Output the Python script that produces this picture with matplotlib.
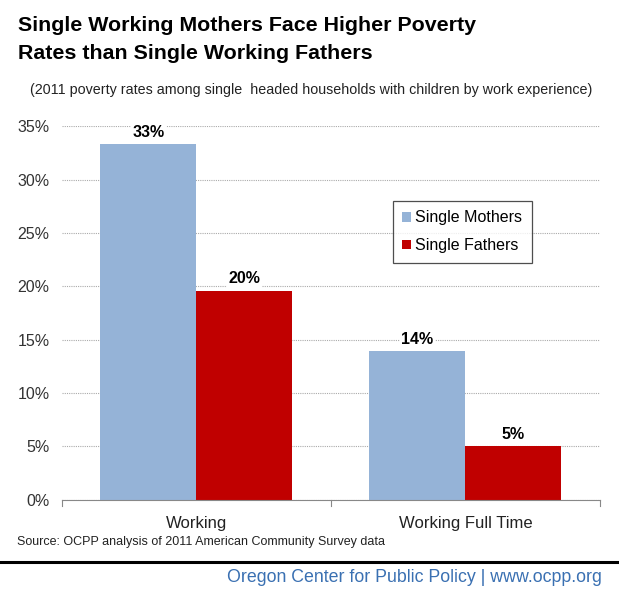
import matplotlib.pyplot as plt
import numpy as np

plt.rcParams['font.family'] = ['Liberation Sans', 'DejaVu Sans']

# data
categories = ["Working", "Working Full Time"]
series_names = ["Single Mothers", "Single Fathers"]
mothers = [0.333, 0.139]
fathers = [0.196, 0.050]
value_labels = [["33%", "14%"], ["20%", "5%"]]
yticks = [0, 0.05, 0.10, 0.15, 0.20, 0.25, 0.30, 0.35]
ytick_labels = ["0%", "5%", "10%", "15%", "20%", "25%", "30%", "35%"]

colors = ["#95B3D7", "#C00000"]

fig = plt.figure(figsize=(6.19, 5.95), dpi=100)
ax = fig.add_axes([0.100, 0.160, 0.869, 0.628])

x = np.arange(len(categories))
w = 0.357
bars_m = ax.bar(x - w / 2, mothers, w, color=colors[0], label=series_names[0], zorder=2)
bars_f = ax.bar(x + w / 2, fathers, w, color=colors[1], label=series_names[1], zorder=2)

# value labels above bars, white box breaks the gridline like the original
for bars, labels in zip([bars_m, bars_f], value_labels):
    for b, lab in zip(bars, labels):
        ax.text(b.get_x() + b.get_width() / 2, b.get_height() + 0.004, lab,
                ha="center", va="bottom", fontsize=11.5, fontweight="bold",
                bbox=dict(facecolor="white", edgecolor="none", pad=1), zorder=3)

ax.set_xlim(-0.5, 1.5)
ax.set_ylim(0, 0.35)
ax.set_yticks(yticks)
ax.set_yticklabels(ytick_labels, fontsize=11.5, color="#333333")
ax.set_xticks(x)
ax.set_xticklabels(categories, fontsize=12, color="#222222")
ax.tick_params(axis="y", length=0, pad=9)
ax.tick_params(axis="x", length=0, pad=12)
# category separators
for xb in [-0.5, 0.5, 1.5]:
    ax.plot([xb, xb], [0, -0.006], color="#888888", lw=0.8, clip_on=False)

ax.yaxis.grid(True, linestyle=(0, (1, 1)), color="#aaaaaa", lw=0.8, zorder=0)
for s in ["top", "right", "left"]:
    ax.spines[s].set_visible(False)
ax.spines["bottom"].set_color("#888888")

leg = ax.legend(loc="upper left", bbox_to_anchor=(0.615, 0.80), fontsize=11.5,
                frameon=True, fancybox=False, edgecolor="#222222",
                handlelength=0.55, handleheight=0.55, handletextpad=0.25,
                borderpad=0.6, labelspacing=0.8, borderaxespad=0)
leg.get_frame().set_linewidth(0.9)

fig.text(0.029, 0.957, "Single Working Mothers Face Higher Poverty",
         fontsize=15.4, fontweight="bold", va="center", ha="left")
fig.text(0.029, 0.910, "Rates than Single Working Fathers",
         fontsize=15.4, fontweight="bold", va="center", ha="left")
fig.text(0.503, 0.849, "(2011 poverty rates among single  headed households with children by work experience)",
         fontsize=10.3, va="center", ha="center", color="#222222")
fig.text(0.028, 0.089, "Source: OCPP analysis of 2011 American Community Survey data",
         fontsize=9, va="center", ha="left", color="#222222")

fig.add_artist(plt.Line2D([0, 1], [0.056, 0.056], color="black", lw=2.2,
                          transform=fig.transFigure))
fig.text(0.973, 0.030, "Oregon Center for Public Policy | www.ocpp.org",
         fontsize=12.8, va="center", ha="right", color="#3A70B2")

fig.savefig("out.png", dpi=100)
